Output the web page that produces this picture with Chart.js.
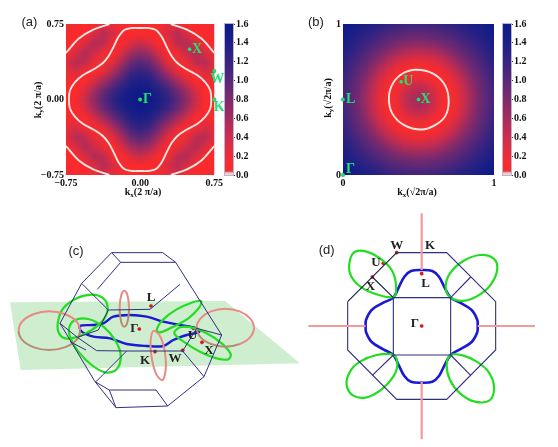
<!DOCTYPE html>
<html>
<head>
<meta charset="utf-8">
<title>Fermi surface panels</title>
<script src="https://cdn.jsdelivr.net/npm/chart.js@4/dist/chart.umd.min.js"></script>
<style>
    html, body { margin: 0; padding: 0; background: #fff; }
    body { width: 558px; height: 447px; position: relative; overflow: hidden; }
    canvas { position: absolute; filter: blur(0.35px); }
</style>
</head>
<body>
<canvas id="panelC" style="left:0;top:220px" width="300" height="227"></canvas>
<canvas id="panelD" style="left:295px;top:205px" width="263" height="242"></canvas>
<canvas id="panelA" style="left:0;top:0" width="225" height="205"></canvas>
<canvas id="barA" style="left:220px;top:0" width="58" height="205"></canvas>
<canvas id="panelB" style="left:280px;top:0" width="222" height="205"></canvas>
<canvas id="barB" style="left:498px;top:0" width="58" height="205"></canvas>
<script>
// colour scale
const colorValues = [0, 0.025, 0.04, 0.06, 0.2, 0.4, 0.6, 0.8, 1.0, 1.2, 1.4, 1.6];
const colorHex = ['#f4e4e2', '#f2b4b0', '#d8403c', '#ff2a2a', '#f02c34', '#cf2d4a', '#a82c5c', '#7f2a6c', '#5a2878', '#382480', '#1c1f86', '#0a1a88'];
const barTicks = [0, 0.2, 0.4, 0.6, 0.8, 1.0, 1.2, 1.4, 1.6];

// panel (a): one quadrant of the map, steps of 0.75/8 from Gamma
const heatA = [
    [1.60, 1.52, 1.42, 1.24, 1.00, 0.72, 0.42, 0.12, 0.06],
    [1.52, 1.48, 1.34, 1.14, 0.90, 0.62, 0.32, 0.07, 0.08],
    [1.42, 1.34, 1.12, 0.86, 0.60, 0.34, 0.07, 0.14, 0.14],
    [1.24, 1.14, 0.86, 0.55, 0.24, 0.06, 0.18, 0.36, 0.24],
    [1.00, 0.90, 0.60, 0.24, 0.05, 0.22, 0.50, 0.52, 0.28],
    [0.72, 0.62, 0.34, 0.06, 0.22, 0.42, 0.55, 0.32, 0.07],
    [0.42, 0.32, 0.07, 0.18, 0.50, 0.55, 0.32, 0.12, 0.08],
    [0.12, 0.07, 0.14, 0.36, 0.52, 0.32, 0.12, 0.08, 0.16],
    [0.06, 0.08, 0.14, 0.24, 0.28, 0.07, 0.08, 0.16, 0.22]
];
const contourAx = [0.72, 0.71, 0.66, 0.58, 0.47, 0.38, 0.32, 0.27, 0.22, 0.16, 0.08, 0];
const contourAy = [0, 0.09, 0.17, 0.24, 0.30, 0.36, 0.43, 0.52, 0.62, 0.69, 0.71, 0.71];
const arcAx = [0.31, 0.474, 0.62, 0.75];
const arcAy = [0.75, 0.694, 0.605, 0.463];
const pointsAx = [0, 0.5, 0.75, 0.75];
const pointsAy = [0, 0.5, 0.283, 0];
const namesA = ['Γ', 'X', 'W', 'K'];
const namesAdx = [0.075, 0.075, 0.03, 0.05];
const namesAdy = [0, 0, -0.085, -0.08];
const ticksA = [-0.75, 0, 0.75];

// panel (b): one quadrant of the map, steps of 0.05 from X
const heatB = [
    [0.65, 0.58, 0.42, 0.20, 0.05, 0.22, 0.42, 0.65, 0.85, 1.00, 1.15],
    [0.58, 0.51, 0.37, 0.17, 0.06, 0.24, 0.44, 0.66, 0.86, 1.01, 1.16],
    [0.42, 0.37, 0.24, 0.11, 0.13, 0.28, 0.49, 0.70, 0.89, 1.03, 1.18],
    [0.20, 0.17, 0.11, 0.09, 0.22, 0.39, 0.58, 0.77, 0.94, 1.07, 1.21],
    [0.05, 0.06, 0.13, 0.22, 0.35, 0.51, 0.69, 0.86, 0.99, 1.13, 1.25],
    [0.22, 0.24, 0.28, 0.39, 0.51, 0.66, 0.81, 0.95, 1.06, 1.19, 1.30],
    [0.42, 0.44, 0.49, 0.58, 0.69, 0.81, 0.93, 1.03, 1.15, 1.26, 1.35],
    [0.65, 0.66, 0.70, 0.77, 0.86, 0.95, 1.03, 1.13, 1.23, 1.32, 1.40],
    [0.85, 0.86, 0.89, 0.94, 0.99, 1.06, 1.15, 1.23, 1.31, 1.38, 1.46],
    [1.00, 1.01, 1.03, 1.07, 1.13, 1.19, 1.26, 1.32, 1.38, 1.45, 1.52],
    [1.15, 1.16, 1.18, 1.21, 1.25, 1.30, 1.35, 1.40, 1.46, 1.52, 1.60]
];
const contourBx = [0.70, 0.678, 0.60, 0.483, 0.395, 0.33, 0.304, 0.325, 0.405, 0.52, 0.61, 0.677];
const contourBy = [0.485, 0.59, 0.67, 0.697, 0.672, 0.606, 0.515, 0.41, 0.33, 0.301, 0.33, 0.39];
const pointsBx = [0, 0, 0.385, 0.5];
const pointsBy = [0, 0.5, 0.617, 0.5];
const namesB = ['Γ', 'L', 'U', 'X'];
const namesBdx = [0.05, 0.05, 0.047, 0.047];
const namesBdy = [0.035, 0, 0, 0];
const ticksB = [0, 1];

// panel (c): projected zone, in units of the drawing
const planeC = [[30, 247], [675, 243], [900, 430], [62, 450]];
const zoneC = [
    [[335, 98], [488, 98], [527, 127], [362, 127], [335, 98]],
    [[335, 98], [245, 190], [180, 310], [285, 485], [348, 563], [503, 558], [612, 470], [665, 345], [527, 127]],
    [[285, 485], [328, 510], [468, 510], [503, 558]],
    [[328, 510], [348, 563]],
    [[245, 190], [325, 270], [450, 268], [540, 193]],
    [[362, 127], [292, 208]],
    [[180, 310], [232, 352], [295, 330], [325, 270]],
    [[232, 352], [290, 392], [380, 393], [548, 393], [590, 325]],
    [[380, 393], [288, 485]],
    [[548, 393], [612, 470]],
    [[590, 325], [665, 345]],
    [[210, 365], [258, 390]]
];
const ringLeftC = [[240, 332], [228, 303], [194, 282], [148, 274], [102, 282], [68, 303], [56, 332], [68, 361], [102, 382], [148, 390], [194, 382], [228, 361]];
const ringRightC = [[762, 323], [750, 295], [719, 274], [676, 266], [633, 274], [602, 295], [590, 323], [602, 352], [633, 372], [676, 380], [719, 372], [750, 352]];
const ringUpperC = [[387, 266], [385, 239], [380, 219], [373, 212], [366, 219], [361, 239], [359, 266], [361, 293], [366, 313], [373, 320], [380, 313], [385, 293]];
const ringLowerC = [[460, 333], [478, 345], [490, 375], [497, 415], [497, 450], [488, 480], [472, 468], [460, 437], [453, 397], [452, 360]];
const greenC = [
    [[175, 300], [190, 265], [230, 235], [275, 224], [310, 235], [323, 265], [310, 300], [275, 330], [235, 350], [195, 355], [175, 335]],
    [[207, 325], [225, 300], [265, 297], [310, 320], [345, 360], [362, 405], [350, 448], [315, 457], [275, 435], [235, 395], [212, 355]],
    [[470, 330], [490, 298], [530, 268], [575, 248], [603, 243], [598, 262], [565, 295], [520, 320], [480, 337]],
    [[523, 340], [540, 322], [575, 322], [620, 340], [665, 370], [692, 402], [685, 418], [650, 415], [600, 395], [555, 368]]
];
const blueC = [[240, 318], [280, 315], [310, 310], [340, 290], [390, 285], [440, 290], [490, 305], [540, 315], [590, 325], [598, 335], [560, 345], [520, 360], [490, 378], [440, 378], [380, 372], [330, 355], [280, 350], [245, 335]];
const dotsC = [[453, 258], [418, 327], [465, 395], [548, 391], [580, 325], [606, 367]];
const namesC = ['L', 'Γ', 'K', 'W', 'U', 'X'];
const namesCx = [453, 403, 435, 525, 577, 627];
const namesCy = [233, 325, 421, 415, 348, 392];

// panel (d): cut through the zone, in units of the drawing
const zoneD = [
    [[305, 143], [455, 143], [602, 290], [602, 435], [455, 583], [305, 583], [158, 435], [158, 290]],
    [[295, 278], [467, 278], [467, 450], [295, 450], [295, 278]],
    [[527, 216], [467, 278]],
    [[232, 511], [295, 450]],
    [[527, 511], [467, 450]]
];
const blackD = [
    [[158, 290], [305, 143]],
    [[232, 216], [295, 278]]
];
const pinkD = [
    [[380, 25], [380, 195]],
    [[380, 530], [380, 703]],
    [[40, 363], [212, 363]],
    [[548, 363], [720, 363]]
];
const greenD = [
    [[296, 276], [303, 240], [290, 195], [255, 160], [215, 140], [180, 140], [165, 165], [165, 205], [190, 240], [235, 265]],
    [[467, 278], [452, 245], [465, 205], [505, 168], [555, 150], [595, 160], [607, 190], [590, 235], [555, 268], [510, 287]],
    [[296, 450], [307, 480], [295, 515], [260, 553], [215, 577], [175, 572], [155, 540], [165, 500], [195, 470], [245, 450]],
    [[467, 450], [455, 480], [465, 525], [495, 565], [540, 590], [585, 585], [597, 545], [580, 500], [545, 470], [505, 452]]
];
const blueD = [[380, 195], [412, 198], [432, 215], [450, 250], [467, 278], [495, 293], [530, 315], [547, 345], [548, 363], [547, 381], [530, 411], [495, 433], [467, 450], [450, 478], [432, 513], [412, 530], [380, 533], [348, 530], [328, 513], [310, 478], [295, 450], [265, 433], [230, 411], [213, 381], [212, 363], [213, 345], [230, 315], [265, 293], [295, 278], [310, 250], [328, 215], [348, 198]];
const dotsD = [[305, 143], [265, 175], [232, 216], [380, 206], [380, 363]];
const namesD = ['W', 'K', 'U', 'X', 'L', 'Γ'];
const namesDx = [305, 405, 243, 226, 392, 360];
const namesDy = [122, 122, 172, 245, 235, 355];

const SERIF = '"Liberation Serif", serif';
const SANS = '"Liberation Sans", sans-serif';
const NAVY = '#2f2f80';
const GREEN = '#25e070';
const LIME = '#22dd22';
const RED = '#e01818';
const SALMON = '#ea8a86';
const BROWN = '#b98a72';
const CONTOUR = '#f4e6e2';

function hexToRgb(hex) {
    return [1, 3, 5].map(i => parseInt(hex.slice(i, i + 2), 16));
}

function valueToColor(v) {
    let i = 0;
    while (i < colorValues.length - 2 && v > colorValues[i + 1]) i++;
    const t = Math.min(1, Math.max(0, (v - colorValues[i]) / (colorValues[i + 1] - colorValues[i])));
    const a = hexToRgb(colorHex[i]);
    const b = hexToRgb(colorHex[i + 1]);
    return a.map((c, k) => Math.round(c + (b[k] - c) * t));
}

// unfold a quadrant that starts at the centre of the map
function unfold(quadrant) {
    const rows = quadrant.slice(1).reverse().concat(quadrant);
    return rows.map(r => r.slice(1).reverse().concat(r));
}

function toPoints(xs, ys, sx = 1, sy = 1) {
    return xs.map((x, i) => ({ x: x * sx, y: ys[i] * sy }));
}

function pairs(list) {
    return list.map(p => ({ x: p[0], y: p[1] }));
}

function curve(data, color, width, tension = 0.35) {
    return { type: 'scatter', data, showLine: true, borderColor: color, borderWidth: width, pointRadius: 0, tension, fill: false };
}

// closed curve: wrapped past both ends, the two wrap segments stay unpainted
// so every painted segment has its real neighbours and the join has no kink
function loopCurve(pts, color, width, recolor) {
    const n = pts.length;
    const set = curve([pts[n - 1], ...pts, pts[0], pts[1]], color, width);
    set.segment = {
        borderColor: c => {
            const i = c.p0DataIndex;
            if (i === 0 || i === n + 1) return 'rgba(0,0,0,0)';
            return recolor ? recolor(i - 1) : color;
        }
    };
    return set;
}

function twoTone(list, from, to) {
    return loopCurve(pairs(list), SALMON, 2, i => (i >= from && i < to ? BROWN : SALMON));
}

// paints the value grid into the chart area, the canvas does the smoothing
const heatPlugin = {
    id: 'heat',
    beforeDatasetsDraw(chart, args, opts) {
        if (!opts.grid) return;
        const n = opts.grid.length;
        const off = document.createElement('canvas');
        off.width = n;
        off.height = n;
        const offCtx = off.getContext('2d');
        const img = offCtx.createImageData(n, n);
        opts.grid.forEach((row, j) => row.forEach((v, i) => {
            const c = valueToColor(v);
            const at = ((n - 1 - j) * n + i) * 4;
            img.data[at] = c[0];
            img.data[at + 1] = c[1];
            img.data[at + 2] = c[2];
            img.data[at + 3] = 255;
        }));
        offCtx.putImageData(img, 0, 0);
        const { ctx, chartArea: area } = chart;
        const w = area.width / (n - 1);
        const h = area.height / (n - 1);
        ctx.save();
        ctx.beginPath();
        ctx.rect(area.left, area.top, area.width, area.height);
        ctx.clip();
        ctx.imageSmoothingEnabled = true;
        ctx.imageSmoothingQuality = 'low';
        ctx.drawImage(off, area.left - w / 2, area.top - h / 2, w * n, h * n);
        ctx.restore();
    }
};

// colour bar, drawn along the value scale
const ramp = {
    id: 'ramp',
    beforeDatasetsDraw(chart, args, opts) {
        if (!opts.on) return;
        const { ctx, chartArea: area, scales } = chart;
        const grad = ctx.createLinearGradient(0, scales.y.getPixelForValue(0), 0, scales.y.getPixelForValue(1.6));
        colorValues.forEach((v, i) => grad.addColorStop(v / 1.6, colorHex[i]));
        ctx.save();
        ctx.fillStyle = grad;
        ctx.fillRect(area.left, area.top, area.width, area.height);
        ctx.strokeStyle = '#b9b4d6';
        ctx.lineWidth = 1;
        ctx.strokeRect(area.left - 0.5, area.top - 0.5, area.width + 1, area.height + 1);
        ctx.restore();
    }
};

// filled plane under the wire frame
const planeFill = {
    id: 'planeFill',
    beforeDatasetsDraw(chart, args, opts) {
        if (!opts.shape) return;
        const { ctx, scales } = chart;
        ctx.save();
        ctx.beginPath();
        opts.shape.forEach(p => ctx.lineTo(scales.x.getPixelForValue(p[0]), scales.y.getPixelForValue(p[1])));
        ctx.closePath();
        ctx.fillStyle = opts.color;
        ctx.fill();
        ctx.restore();
    }
};

// names of the marked points and panel tags, placed through the scales
const notes = {
    id: 'notes',
    afterDatasetsDraw(chart, args, opts) {
        if (!opts.items) return;
        const { ctx, scales } = chart;
        ctx.save();
        ctx.textAlign = 'center';
        ctx.textBaseline = 'middle';
        opts.items.forEach(n => {
            ctx.font = n.font;
            ctx.fillStyle = n.color;
            ctx.fillText(n.text, scales.x.getPixelForValue(n.x), scales.y.getPixelForValue(n.y));
        });
        ctx.restore();
    }
};

// axis title with a subscript: pieces run along x, or up the y side
const axisTitle = {
    id: 'axisTitle',
    afterDraw(chart, args, opts) {
        if (!opts.sub) return;
        const { ctx } = chart;
        const big = 'bold 10px ' + SERIF;
        const small = 'bold 7px ' + SERIF;
        const measure = p => { ctx.font = p.s ? small : big; return ctx.measureText(p.t).width; };
        const draw = (cx, cy, angle, sub) => {
            const pieces = [{ t: 'k' }, { t: sub, s: true }, { t: opts.rest }];
            const total = pieces.reduce((a, p) => a + measure(p), 0);
            ctx.save();
            ctx.translate(cx, cy);
            ctx.rotate(angle);
            ctx.fillStyle = '#111';
            ctx.textBaseline = 'alphabetic';
            let at = -total / 2;
            pieces.forEach(p => {
                const w = measure(p);
                ctx.font = p.s ? small : big;
                ctx.fillText(p.t, at, p.s ? 5.5 : 3.5);
                at += w;
            });
            ctx.restore();
        };
        draw(opts.xAt[0], opts.xAt[1], 0, 'x');
        draw(opts.yAt[0], opts.yAt[1], -Math.PI / 2, 'y');
    }
};

Chart.register(heatPlugin, ramp, planeFill, notes, axisTitle);

function hiddenAxis(min, max, reverse = false) {
    return { type: 'linear', display: false, min, max, reverse };
}

function mapChart(id, cfg) {
    const ticksFor = axis => ({
        type: 'linear',
        min: cfg.ticks[0],
        max: cfg.ticks[cfg.ticks.length - 1],
        position: axis === 'x' ? 'bottom' : 'left',
        grid: { display: false, drawTicks: false },
        border: { display: false },
        afterBuildTicks: s => { s.ticks = cfg.ticks.map(value => ({ value })); },
        afterFit: s => {
            if (axis === 'x') s.height = 30;
            else s.width = cfg.yWidth;
        },
        ticks: {
            autoSkip: false,
            maxRotation: 0,
            padding: 2,
            color: '#111',
            font: { family: SERIF, size: 10, weight: 'bold' },
            callback: cfg.tickText
        }
    });
    return new Chart(document.getElementById(id), {
        type: 'scatter',
        data: { datasets: cfg.datasets },
        options: {
            responsive: false,
            animation: false,
            layout: { autoPadding: false, padding: { left: 0, top: 24, right: cfg.right, bottom: 0 } },
            scales: { x: ticksFor('x'), y: ticksFor('y') },
            plugins: {
                legend: { display: false },
                tooltip: { enabled: false },
                heat: { grid: cfg.grid },
                notes: { items: cfg.items },
                axisTitle: cfg.title
            }
        }
    });
}

function barChart(id) {
    return new Chart(document.getElementById(id), {
        type: 'scatter',
        data: { datasets: [{ data: [] }] },
        options: {
            responsive: false,
            animation: false,
            layout: { autoPadding: false, padding: { left: 5, top: 24, right: 0, bottom: 30 } },
            scales: {
                x: { type: 'linear', display: false, min: 0, max: 1 },
                y: {
                    type: 'linear',
                    position: 'right',
                    min: 0,
                    max: 1.6,
                    border: { display: false },
                    grid: { display: true, drawOnChartArea: false, drawTicks: true, tickLength: 2, color: '#333' },
                    afterBuildTicks: s => { s.ticks = barTicks.map(value => ({ value })); },
                    afterFit: s => { s.width = 45; },
                    ticks: {
                        autoSkip: false,
                        padding: 1,
                        color: '#111',
                        font: { family: SERIF, size: 10, weight: 'bold' },
                        callback: v => v.toFixed(1)
                    }
                }
            },
            plugins: { legend: { display: false }, tooltip: { enabled: false }, ramp: { on: true } }
        }
    });
}

function drawingChart(id, w, h, datasets, items, plane) {
    return new Chart(document.getElementById(id), {
        type: 'scatter',
        data: { datasets },
        options: {
            responsive: false,
            animation: false,
            layout: { autoPadding: false, padding: 0 },
            scales: { x: hiddenAxis(0, w), y: hiddenAxis(0, h, true) },
            plugins: {
                legend: { display: false },
                tooltip: { enabled: false },
                notes: { items },
                planeFill: plane || {}
            }
        }
    });
}

// panel (a)
const labelFont = 'bold 14px ' + SERIF;
const corners = [[1, 1], [-1, 1], [-1, -1], [1, -1]];
const innerA = corners.flatMap(([sx, sy], q) => {
    const pts = toPoints(contourAx, contourAy, sx, sy);
    return q % 2 ? pts.reverse().slice(1) : pts.slice(1);
});
mapChart('panelA', {
    grid: unfold(heatA),
    ticks: ticksA,
    tickText: v => (v < 0 ? '−' : '') + Math.abs(v).toFixed(2),
    yWidth: 66,
    right: 7,
    datasets: [
        loopCurve(innerA, CONTOUR, 1.9),
        ...corners.map(([sx, sy]) => curve(toPoints(arcAx, arcAy, sx, sy), CONTOUR, 1.9)),
        { data: toPoints(pointsAx, pointsAy), pointRadius: 2, backgroundColor: GREEN, clip: false }
    ],
    items: [
        ...namesA.map((text, i) => ({ text, x: pointsAx[i] + namesAdx[i], y: pointsAy[i] + namesAdy[i], color: GREEN, font: labelFont })),
        { text: '(a)', x: -1.12, y: 0.77, color: '#222', font: '13px ' + SANS }
    ],
    title: { sub: true, rest: '(2 π/a)', xAt: [143, 191], yAt: [37, 100] }
});
barChart('barA');

// panel (b)
mapChart('panelB', {
    grid: unfold(heatB),
    ticks: ticksB,
    tickText: v => String(v),
    yWidth: 63,
    right: 8,
    datasets: [
        loopCurve(toPoints(contourBx, contourBy), CONTOUR, 1.9),
        { data: toPoints(pointsBx, pointsBy), pointRadius: 2, backgroundColor: GREEN, clip: false }
    ],
    items: [
        ...namesB.map((text, i) => ({ text, x: pointsBx[i] + namesBdx[i], y: pointsBy[i] + namesBdy[i], color: GREEN, font: labelFont })),
        { text: '(b)', x: -0.18, y: 1.01, color: '#222', font: '13px ' + SANS }
    ],
    title: { sub: true, rest: '(√2π/a)', xAt: [137, 191], yAt: [47, 98] }
});
barChart('barB');

// panel (c)
drawingChart('panelC', 900, 681, [
    ...zoneC.map(line => curve(pairs(line), NAVY, 1, 0)),
    twoTone(ringLeftC, 6, 12),
    twoTone(ringRightC, 6, 10),
    twoTone(ringUpperC, 6, 12),
    twoTone(ringLowerC, 0, 0),
    ...greenC.map(line => loopCurve(pairs(line), LIME, 2.2)),
    loopCurve(pairs(blueC), '#1a1ad2', 2.4),
    { data: pairs(dotsC), pointRadius: 1.8, backgroundColor: RED }
], [
    ...namesC.map((text, i) => ({ text, x: namesCx[i], y: namesCy[i], color: '#222', font: 'bold 13px ' + SERIF })),
    { text: '(c)', x: 228, y: 93, color: '#222', font: '13px ' + SANS }
], { shape: planeC, color: '#cfeed0' });

// panel (d)
drawingChart('panelD', 789, 726, [
    ...pinkD.map(line => curve(pairs(line), '#f29a9c', 2.2, 0)),
    ...zoneD.map(line => curve(pairs(line), NAVY, 1.1, 0)),
    ...blackD.map(line => curve(pairs(line), '#1c1c3c', 1.1, 0)),
    ...greenD.map(line => loopCurve(pairs(line), LIME, 2.2)),
    loopCurve(pairs(blueD), '#1a1ad2', 2.6),
    { data: pairs(dotsD), pointRadius: 1.8, backgroundColor: RED }
], [
    ...namesD.map((text, i) => ({ text, x: namesDx[i], y: namesDy[i], color: '#222', font: 'bold 13px ' + SERIF })),
    { text: '(d)', x: 95, y: 137, color: '#222', font: '13px ' + SANS }
]);
</script>
</body>
</html>
